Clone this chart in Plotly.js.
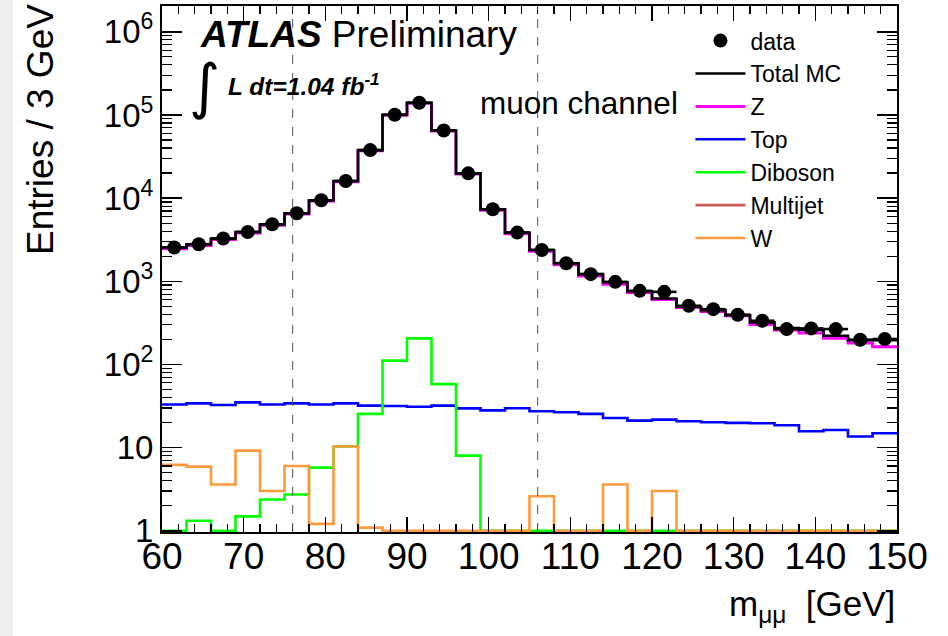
<!DOCTYPE html>
<html>
<head>
<meta charset="utf-8">
<script src="https://cdn.plot.ly/plotly-3.0.1.min.js"></script>
<style>
  html, body { margin: 0; padding: 0; background: #ffffff; }
  #chart { width: 948px; height: 636px; }
</style>
</head>
<body>
<div id="chart"></div>
<script>
// ---- data ----
const binEdges = [60,63,66,69,72,75,78,81,84,87,90,93,96,99,102,105,108,111,114,117,120,123,126,129,132,135,138,141,144,147,150];
const dataCounts = [2545,2790,3265,3920,4845,6570,9410,16040,37770,100500,140000,65100,19850,7340,3850,2380,1650,1217,984,767,746,507,462,395,335,266,271,266,198,202];
const totalMC = [2545,2790,3265,3920,4845,6570,9410,16040,37770,100500,140000,65100,19850,7340,3850,2380,1650,1217,975,760,621,493,450,392,320,273,259,221,196,196];
const zValues = [2460,2700,3170,3800,4720,6420,9230,15700,37200,99000,138000,64200,19550,7150,3720,2290,1580,1160,923,733,604,484,434,384,303,259,238,206,181,163];
const topValues = [33,34,32.5,35,33,34,33,34,32,31.6,31,32,29.6,28,29.7,27.4,26.6,25.4,22.7,21.1,21.7,20.7,20.2,19.8,19.6,18.6,15.7,16.3,13.6,14.9];
const dibosonValues = [1,1.32,1,1.49,2.38,2.73,5.75,10.3,25.4,111,206,58,8.0,1,1,1,1,1,1,1,1,1,1,1,1,1,1,1,1,1];
const multijetValues = [0,0,0,0,0,0,0,0,0,0,0,0,0,0,0,0,0,0,0,0,0,0,0,0,0,0,0,0,0,0];
const wValues = [6.2,5.9,3.6,9.2,3.0,6.0,1.21,10.3,1.09,1,1,1,1,1,1,2.6,1,1,3.6,1,3.0,1,1,1,1,1,1,1,1,1];
const massWindow = [76, 106];
const xTickVals = [60,70,80,90,100,110,120,130,140,150];
const yTickVals = [1,10,100,1000,10000,100000,1000000];
const yTickText = ['1','10','10<sup>2</sup>','10<sup>3</sup>','10<sup>4</sup>','10<sup>5</sup>','10<sup>6</sup>'];

// ---- helpers ----
const binCenters = binEdges.slice(0, -1).map((e, i) => (e + binEdges[i + 1]) / 2);
const halfWidths = binEdges.slice(0, -1).map((e, i) => (binEdges[i + 1] - e) / 2);
function stepTrace(name, vals, color, rank, width) {
  return {
    type: 'scatter', mode: 'lines', name: name,
    x: binEdges, y: vals.concat([vals[vals.length - 1]]),
    line: { shape: 'hv', color: color, width: width || 2.6 },
    legendrank: rank, hoverinfo: 'skip'
  };
}
const minorY = [];
for (let d = 0; d < 7; d++) for (let m = 2; m <= 9; m++) minorY.push(m * Math.pow(10, d));

const traces = [
  stepTrace('Top', topValues, '#0000ff', 4),
  stepTrace('Diboson', dibosonValues, '#00ff00', 5),
  stepTrace('Multijet', multijetValues, '#cd5c5c', 6),
  stepTrace('W', wValues, '#ff9a3c', 7),
  stepTrace('Z', zValues, '#ff00ff', 3, 3),
  stepTrace('Total MC', totalMC, '#000000', 2),
  {
    type: 'scatter', mode: 'markers', name: 'data',
    x: binCenters, y: dataCounts,
    marker: { color: '#000000', size: 14 },
    error_x: { type: 'data', array: halfWidths, thickness: 2.6, width: 0, color: '#000000' },
    legendrank: 1
  }
];

const F = 'Liberation Sans, Arial, Helvetica, sans-serif';
const shapes = massWindow.map(m => ({
  type: 'line', xref: 'x', yref: 'paper', x0: m, x1: m, y0: 0, y1: 1,
  line: { color: '#555555', width: 1, dash: 'dash' }
}));
shapes.push({ type: 'rect', xref: 'paper', yref: 'paper', x0: -162/735, x1: -149/735, y0: -104/526, y1: 536/526,
  fillcolor: '#eeeeee', line: { width: 0 }, layer: 'below' });

const layout = {
  width: 948, height: 636,
  margin: { l: 162, r: 51, t: 6, b: 104 },
  paper_bgcolor: '#ffffff', plot_bgcolor: '#ffffff',
  showlegend: true,
  legend: {
    x: 0.719, y: 0.975, xanchor: 'left', yanchor: 'top',
    bgcolor: 'rgba(0,0,0,0)', borderwidth: 0,
    font: { family: F, size: 23, color: '#000' },
    itemwidth: 50, tracegroupgap: 0, traceorder: 'normal'
  },
  xaxis: {
    range: [60, 150], type: 'linear',
    tickmode: 'array', tickvals: xTickVals,
    ticks: 'inside', ticklen: 15, tickwidth: 1.5, tickcolor: '#000',
    minor: { ticks: 'inside', ticklen: 8, dtick: 2, tickwidth: 1.2, tickcolor: '#000' },
    showline: true, linecolor: '#000', linewidth: 2, mirror: 'allticks',
    showgrid: false, zeroline: false,
    ticklabelstandoff: -9,
    tickfont: { family: F, size: 37, color: '#000' }
  },
  yaxis: {
    type: 'log', range: [-0.015, 6.31],
    tickmode: 'array', tickvals: yTickVals, ticktext: yTickText,
    ticks: 'inside', ticklen: 20, tickwidth: 1.5, tickcolor: '#000',
    minor: { ticks: 'inside', ticklen: 10, tickmode: 'array', tickvals: minorY, tickwidth: 1.2, tickcolor: '#000' },
    showline: true, linecolor: '#000', linewidth: 2, mirror: 'allticks',
    showgrid: false, zeroline: false,
    tickfont: { family: F, size: 33, color: '#000' }
  },
  shapes: shapes,
  annotations: [
    { xref: 'paper', yref: 'paper', x: (198-162)/735, y: (532-35)/526, xanchor: 'left', yanchor: 'middle',
      text: '<b><i>ATLAS</i></b> Preliminary', showarrow: false, font: { family: F, size: 37, color: '#000' } },
    { xref: 'paper', yref: 'paper', x: (204-162)/735, y: (532-86)/526, xanchor: 'center', yanchor: 'middle',
      text: '∫', showarrow: false, font: { family: 'DejaVu Sans, sans-serif', size: 60, color: '#000' } },
    { xref: 'paper', yref: 'paper', x: (226-162)/735, y: (532-84)/526, xanchor: 'left', yanchor: 'middle',
      text: '<b><i>L dt=1.04 fb<sup>-1</sup></i></b>', showarrow: false, font: { family: F, size: 24.5, color: '#000' } },
    { xref: 'paper', yref: 'paper', x: (478-162)/735, y: (532-103)/526, xanchor: 'left', yanchor: 'middle',
      text: 'muon channel', showarrow: false, font: { family: F, size: 31.5, color: '#000' } },
    { xref: 'paper', yref: 'paper', x: (40-162)/735, y: (532-130)/526, xanchor: 'center', yanchor: 'middle',
      text: 'Entries / 3 GeV', textangle: -90, showarrow: false, font: { family: F, size: 37, color: '#000' } },
    { xref: 'paper', yref: 'paper', x: 1, y: (532-606)/526, xanchor: 'right', yanchor: 'middle',
      text: 'm<sub>μμ</sub>  [GeV]', showarrow: false, font: { family: F, size: 35, color: '#000' } }
  ]
};

Plotly.newPlot('chart', traces, layout, { staticPlot: true, displayModeBar: false });
</script>
</body>
</html>
